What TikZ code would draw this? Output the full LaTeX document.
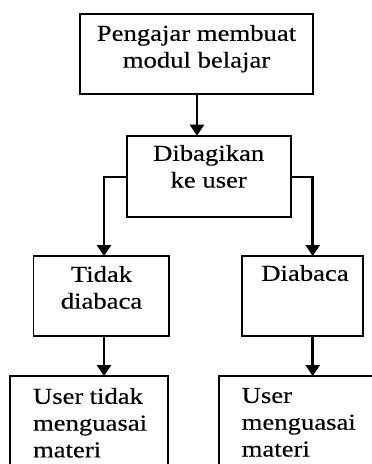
\documentclass[tikz,border=0pt]{standalone}
\usepackage{fontspec}
\setmainfont[FakeStretch=1.17,FakeBold=0.35]{Liberation Serif}
\usetikzlibrary{arrows.meta}
\newcommand\st{\rule[-6pt]{0pt}{20pt}}
\tikzset{
  box/.style={draw, line width=1.8pt, inner sep=0pt, outer sep=0pt, anchor=north west},
  txt/.style={inner sep=0pt, outer sep=0pt, font=\fontsize{22.8pt}{26.8pt}\selectfont},
  arr/.style={line width=2.6pt, -{Triangle[length=11pt,width=14pt]}},
  con/.style={line width=2pt}
}
\begin{document}
\begin{tikzpicture}[x=1pt,y=-1pt]
\useasboundingbox (0,0) rectangle (372,464);
\clip (0,0) rectangle (372,464);
\fill[white] (0,0) rectangle (372,464);
% boxes
\node[box, minimum width=233pt, minimum height=80pt] (b1) at (80,14) {};
\node[box, minimum width=164pt, minimum height=81.6pt] (b2) at (126.7,135.7) {};
\node[box, minimum width=135.5pt, minimum height=80pt] (b3) at (33.5,256) {};
\node[box, minimum width=120.4pt, minimum height=80pt] (b4) at (242.3,256) {};
\node[box, minimum width=158.3pt, minimum height=140pt] (b5) at (10,376) {};
\node[box, minimum width=200pt, minimum height=140pt] (b6) at (219.3,376) {};
% texts
\node[txt, anchor=north, align=center] (t1) at (196.5,25) {\st Pengajar membuat\\\st modul belajar};
\node[txt, anchor=north, align=center] (t2) at (208.7,145) {\st Dibagikan\\\st ke user};
\node[txt, anchor=north, align=center] (t3) at (101.5,266) {\st Tidak\\\st diabaca};
\node[txt, anchor=north, align=center] (t4) at (305,265) {\st Diabaca};
\node[txt, anchor=north west, text width=110pt, align=left] (t5) at (33,388) {\st User\hfill tidak\\\st menguasai\\\st materi};
\node[txt, anchor=north west, text width=130pt, align=left] (t6) at (241.7,388) {\st User\\\st menguasai\\\st materi};
% connector columns
\coordinate (xm) at (197,0);
\coordinate (xl) at (104,0);
\coordinate (xr) at (312.7,0);
\coordinate (jl) at (xl |- b2.west);
\coordinate (jr) at (xr |- b2.east);
% connectors
\draw[arr] (xm |- b1.south) -- (xm |- b2.north);
\draw[con] (b2.west) -- ([xshift=-1.3pt]jl);
\draw[con] (b2.east) -- ([xshift=1.3pt]jr);
\draw[arr] ([yshift=-1pt]jl) -- (xl |- b3.north);
\draw[arr] ([yshift=-1pt]jr) -- (xr |- b4.north);
\draw[arr] (xl |- b3.south) -- (xl |- b5.north);
\draw[arr] (xr |- b4.south) -- (xr |- b6.north);
\end{tikzpicture}
\end{document}
